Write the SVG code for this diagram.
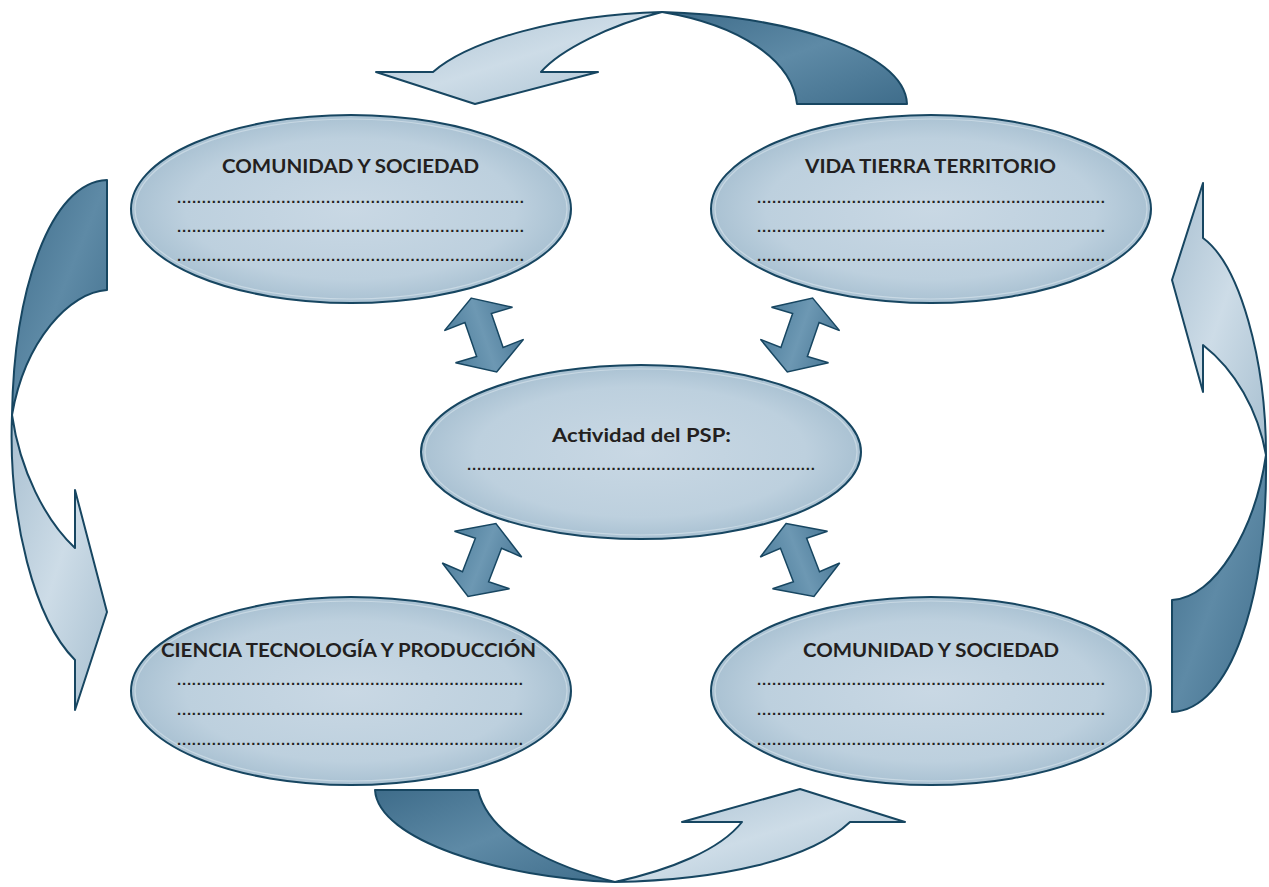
<svg xmlns="http://www.w3.org/2000/svg" width="1269" height="887" viewBox="0 0 1269 887">
<defs>
<radialGradient id="gEll" cx="0.5" cy="0.5" r="0.5">
<stop offset="0" stop-color="#c9d8e4"/>
<stop offset="0.75" stop-color="#bdd0de"/>
<stop offset="1" stop-color="#a9c1d2"/>
</radialGradient>
<linearGradient id="gLight" x1="0" y1="0" x2="1" y2="1">
<stop offset="0" stop-color="#a9c0d1"/>
<stop offset="0.5" stop-color="#cddce7"/>
<stop offset="1" stop-color="#a7bfd0"/>
</linearGradient>
<linearGradient id="gDark" x1="0" y1="0" x2="1" y2="1">
<stop offset="0" stop-color="#3e6c8a"/>
<stop offset="0.5" stop-color="#5e8aa6"/>
<stop offset="1" stop-color="#3f6d8b"/>
</linearGradient>
<linearGradient id="gDbl" x1="0" y1="0" x2="1" y2="0">
<stop offset="0" stop-color="#4f7f9d"/>
<stop offset="0.5" stop-color="#6d98b3"/>
<stop offset="1" stop-color="#4c7a98"/>
</linearGradient>
<path id="dbl" d="M0,-39 L36,-17 L14,-18 L14,18 L36,17 L0,39 L-36,17 L-14,18 L-14,-18 L-36,-17 Z"/>
</defs>
<style>
.ell{fill:url(#gEll);stroke:#174661;stroke-width:2}
.rim{fill:none;stroke:#e4edf3;stroke-width:1.2;opacity:0.5}
.lt{fill:url(#gLight);stroke:#174661;stroke-width:2;stroke-linejoin:round}
.dk{fill:url(#gDark);stroke:#174661;stroke-width:2;stroke-linejoin:round}
.db{fill:url(#gDbl);stroke:#174661;stroke-width:1.5;stroke-linejoin:miter}
.ttl{font-family:Lato,"Open Sans","Liberation Sans",sans-serif;font-weight:bold;font-size:19.5px;fill:#231f20;text-anchor:middle}
.dots{font-family:"Liberation Sans",sans-serif;font-weight:bold;font-size:15px;fill:#231f20}
</style>
<rect width="1269" height="887" fill="#ffffff"/>
<g id="connectors">
<g id="arrow-top">
<path class="lt" d="M662,12 C610,25 560,50 541,72 L598,72 L475,104 L376,72 L433,72 C470,40 560,15 662,12 Z"/>
<path class="dk" d="M662,12 C780,15 905,50 907,104 L797,104 C792,60 740,25 662,12 Z"/>
</g>
<g id="arrow-left">
<path class="lt" d="M12,415 C20,470 45,520 75,548 L75,490 L107,612 L75,710 L75,660 C35,620 8,520 12,415 Z"/>
<path class="dk" d="M12,415 C25,340 70,292 107,290 L107,180 C50,182 14,290 12,415 Z"/>
</g>
<g id="arrow-right">
<path class="lt" d="M1266,455 C1258,410 1235,370 1203,345 L1203,392 L1172,280 L1203,183 L1203,238 C1240,265 1266,360 1266,455 Z"/>
<path class="dk" d="M1266,455 C1268,600 1230,710 1172,712 L1172,600 C1215,598 1255,530 1266,455 Z"/>
</g>
<g id="arrow-bottom">
<path class="dk" d="M615,882 C500,878 378,840 375,790 L478,790 C490,840 560,868 615,882 Z"/>
<path class="lt" d="M615,882 C670,870 720,850 742,822 L682,822 L800,789 L905,822 L850,822 C810,860 720,880 615,882 Z"/>
</g>
<use class="db" href="#dbl" transform="translate(484,335) rotate(-19)"/>
<use class="db" href="#dbl" transform="translate(800,335) rotate(19)"/>
<use class="db" href="#dbl" transform="translate(482,560) rotate(21)"/>
<use class="db" href="#dbl" transform="translate(800,560) rotate(-21)"/>
</g>
<g id="node-tl">
<ellipse class="ell" cx="351" cy="209" rx="220" ry="94"/>
<ellipse class="rim" cx="351" cy="209" rx="216" ry="90"/>
<text class="ttl" x="350.5" y="173" textLength="257" lengthAdjust="spacingAndGlyphs">COMUNIDAD Y SOCIEDAD</text>
<text class="dots" x="177" y="203" textLength="347" lengthAdjust="spacing">......................................................................</text>
<text class="dots" x="177" y="232" textLength="347" lengthAdjust="spacing">......................................................................</text>
<text class="dots" x="177" y="261" textLength="347" lengthAdjust="spacing">......................................................................</text>
</g>
<g id="node-tr">
<ellipse class="ell" cx="931" cy="209" rx="220" ry="94"/>
<ellipse class="rim" cx="931" cy="209" rx="216" ry="90"/>
<text class="ttl" x="930.5" y="173" textLength="251" lengthAdjust="spacingAndGlyphs">VIDA TIERRA TERRITORIO</text>
<text class="dots" x="757" y="203" textLength="348" lengthAdjust="spacing">......................................................................</text>
<text class="dots" x="757" y="232" textLength="348" lengthAdjust="spacing">......................................................................</text>
<text class="dots" x="757" y="261" textLength="348" lengthAdjust="spacing">......................................................................</text>
</g>
<g id="node-center">
<ellipse class="ell" cx="641" cy="452" rx="220" ry="87"/>
<ellipse class="rim" cx="641" cy="452" rx="216" ry="83"/>
<text class="ttl" x="641.5" y="442" textLength="179" lengthAdjust="spacingAndGlyphs">Actividad del PSP:</text>
<text class="dots" x="467" y="470" textLength="348" lengthAdjust="spacing">......................................................................</text>
</g>
<g id="node-bl">
<ellipse class="ell" cx="351" cy="691" rx="220" ry="94"/>
<ellipse class="rim" cx="351" cy="691" rx="216" ry="90"/>
<text class="ttl" x="348.5" y="657" textLength="375" lengthAdjust="spacingAndGlyphs">CIENCIA TECNOLOGÍA Y PRODUCCIÓN</text>
<text class="dots" x="177" y="685" textLength="346" lengthAdjust="spacing">......................................................................</text>
<text class="dots" x="177" y="715" textLength="346" lengthAdjust="spacing">......................................................................</text>
<text class="dots" x="177" y="745" textLength="346" lengthAdjust="spacing">......................................................................</text>
</g>
<g id="node-br">
<ellipse class="ell" cx="931" cy="691" rx="220" ry="94"/>
<ellipse class="rim" cx="931" cy="691" rx="216" ry="90"/>
<text class="ttl" x="931" y="657" textLength="256" lengthAdjust="spacingAndGlyphs">COMUNIDAD Y SOCIEDAD</text>
<text class="dots" x="757" y="685" textLength="348" lengthAdjust="spacing">......................................................................</text>
<text class="dots" x="757" y="715" textLength="348" lengthAdjust="spacing">......................................................................</text>
<text class="dots" x="757" y="745" textLength="348" lengthAdjust="spacing">......................................................................</text>
</g>
</svg>
